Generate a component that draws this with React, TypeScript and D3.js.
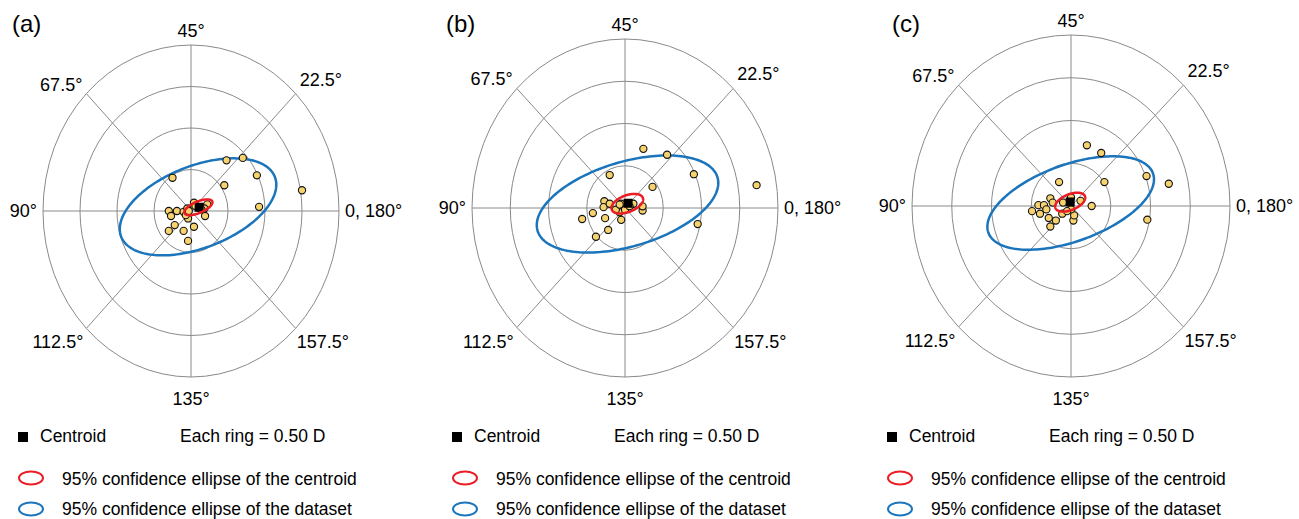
import React, { useEffect, useRef } from 'react';
import * as d3 from 'd3';

// double-angle plots, each ring = 0.50 D
const panelLabels = ['(a)', '(b)', '(c)'];
const angleLabels = ['0, 180°', '22.5°', '45°', '67.5°', '90°', '112.5°', '135°', '157.5°'];
const ringValues = [0.5, 1.0, 1.5, 2.0];

const pointsA = [
  [0.48, 0.61], [0.70, 0.64], [-0.25, 0.40], [0.89, 0.43], [0.45, 0.31], [1.50, 0.25],
  [0.92, 0.05], [-0.04, -0.36], [-0.30, -0.24], [-0.10, -0.24], [-0.22, -0.17], [0.04, -0.19],
  [0.19, -0.06], [-0.30, 0.00], [-0.19, 0.00], [-0.10, -0.01], [-0.27, -0.06], [-0.05, 0.03],
  [0.04, 0.10], [0.22, 0.08], [0.18, 0.03], [-0.04, -0.09], [-0.07, -0.05], [-0.03, 0.00],
  [0.06, 0.06], [0.14, 0.02],
];
const pointsB = [
  [0.24, 0.70], [0.55, 0.63], [-0.20, 0.39], [0.90, 0.40], [0.36, 0.25], [1.72, 0.27],
  [0.95, -0.19], [-0.56, -0.13], [-0.42, -0.06], [-0.26, -0.12], [-0.22, -0.26], [-0.38, -0.34],
  [-0.05, -0.14], [0.23, -0.03], [0.23, 0.02], [-0.27, 0.08], [-0.28, 0.01], [-0.20, 0.05],
  [-0.07, -0.05], [-0.12, -0.02], [-0.05, 0.05], [0.11, 0.05], [0.00, -0.02], [0.06, 0.02],
  [-0.07, 0.04],
];
const pointsC = [
  [0.20, 0.71], [0.38, 0.62], [-0.15, 0.28], [0.42, 0.28], [0.95, 0.35], [1.23, 0.26],
  [0.96, -0.16], [0.26, 0.00], [-0.49, -0.06], [-0.41, 0.01], [-0.34, 0.01], [-0.26, 0.09],
  [-0.23, 0.04], [-0.31, -0.04], [-0.39, -0.09], [-0.28, -0.14], [-0.19, -0.17], [-0.26, -0.24],
  [0.03, -0.17], [0.04, -0.11], [-0.11, -0.09], [-0.10, 0.04], [0.12, 0.06], [0.00, 0.10],
  [0.00, -0.04], [-0.05, -0.06],
];

const centroids = [[0.11, 0.045], [0.04, 0.056], [-0.01, 0.047]];
// [cx, cy, semi-major, semi-minor, angle deg], in D
const centroidEllipses = [[0.10, 0.045, 0.20, 0.07, 20], [0.03, 0.051, 0.215, 0.10, 18], [-0.01, 0.045, 0.198, 0.093, 20]];
const datasetEllipses = [[0.095, 0.05, 1.10, 0.50, 18], [0.033, 0.047, 1.218, 0.504, 14.4], [-0.004, 0.035, 1.092, 0.452, 18]];

const legendLabels = ['Centroid', 'Each ring = 0.50 D', '95% confidence ellipse of the centroid', '95% confidence ellipse of the dataset'];

// panel layout (pixels)
const panels = [
  { cx: 191, cy: 211, rx: 148, ry: 166, lx: 18 },
  { cx: 625, cy: 208, rx: 153, ry: 169, lx: 452 },
  { cx: 1071, cy: 206, rx: 159, ry: 171, lx: 887 },
];

const FONT = '"Liberation Sans", Arial, sans-serif';
const RED = '#ec1c24';
const BLUE = '#1b75bc';

const App = () => {
  const svgRef = useRef(null);

  useEffect(() => {
    const svg = d3.select(svgRef.current);
    svg.selectAll('*').remove();
    const allPoints = [pointsA, pointsB, pointsC];

    panels.forEach((p, i) => {
      const x = d3.scaleLinear().domain([-2, 2]).range([p.cx - p.rx, p.cx + p.rx]);
      const y = d3.scaleLinear().domain([-2, 2]).range([p.cy + p.ry, p.cy - p.ry]);
      const g = svg.append('g');

      g.append('text')
        .attr('x', p.cx - 179).attr('y', 32)
        .attr('font-size', 24).attr('font-family', FONT)
        .text(panelLabels[i]);

      // rings
      g.selectAll('ellipse.ring').data(ringValues).enter().append('ellipse')
        .attr('cx', x(0)).attr('cy', y(0))
        .attr('rx', d => x(d) - x(0)).attr('ry', d => y(0) - y(d))
        .attr('fill', 'none').attr('stroke', '#8a8a8a').attr('stroke-width', 1);

      // spokes + labels
      const maxR = ringValues[ringValues.length - 1];
      angleLabels.forEach((lab, k) => {
        const phi = (k * 45 * Math.PI) / 180;
        const ex = x(maxR * Math.cos(phi));
        const ey = y(maxR * Math.sin(phi));
        g.append('line')
          .attr('x1', x(0)).attr('y1', y(0)).attr('x2', ex).attr('y2', ey)
          .attr('stroke', '#8a8a8a').attr('stroke-width', 1);

        let tx = ex, ty = ey, anchor = 'middle';
        if (k === 0) { tx = ex + 6; ty = ey + 6; anchor = 'start'; }
        if (k === 1) { tx = ex + 4; ty = ey - 8; anchor = 'start'; }
        if (k === 2) { ty = ey - 8; }
        if (k === 3) { tx = ex - 4; ty = ey - 3; anchor = 'end'; }
        if (k === 4) { tx = ex - 6; ty = ey + 6; anchor = 'end'; }
        if (k === 5) { tx = ex - 3; ty = ey + 20; anchor = 'end'; }
        if (k === 6) { ty = ey + 28; }
        if (k === 7) { tx = ex + 1; ty = ey + 20; anchor = 'start'; }
        g.append('text')
          .attr('x', tx).attr('y', ty).attr('text-anchor', anchor)
          .attr('font-size', 18).attr('font-family', FONT)
          .text(lab);
      });

      const ellipsePath = (e) => {
        const [ecx, ecy, a, b, deg] = e;
        const th = (deg * Math.PI) / 180;
        const ts = d3.range(0, 2 * Math.PI, Math.PI / 90);
        return d3.line()
          .x(t => x(ecx + a * Math.cos(t) * Math.cos(th) - b * Math.sin(t) * Math.sin(th)))
          .y(t => y(ecy + a * Math.cos(t) * Math.sin(th) + b * Math.sin(t) * Math.cos(th)))
          .curve(d3.curveLinearClosed)(ts);
      };

      g.append('path')
        .attr('d', ellipsePath(datasetEllipses[i]))
        .attr('fill', 'none').attr('stroke', BLUE).attr('stroke-width', 2.5);

      g.selectAll('circle.pt').data(allPoints[i]).enter().append('circle')
        .attr('cx', d => x(d[0])).attr('cy', d => y(d[1])).attr('r', 3.6)
        .attr('fill', '#f6d36f').attr('stroke', '#111').attr('stroke-width', 1.1);

      const c = centroids[i];
      g.append('rect')
        .attr('x', x(c[0]) - 4.5).attr('y', y(c[1]) - 4.5)
        .attr('width', 9).attr('height', 9).attr('fill', '#000');

      g.append('path')
        .attr('d', ellipsePath(centroidEllipses[i]))
        .attr('fill', 'none').attr('stroke', RED).attr('stroke-width', 2.5);

      // legend
      const lg = g.append('g').attr('font-family', FONT).attr('font-size', 17.5);
      lg.append('rect').attr('x', p.lx).attr('y', 432).attr('width', 10).attr('height', 10).attr('fill', '#000');
      lg.append('text').attr('x', p.lx + 22).attr('y', 442).text(legendLabels[0]);
      lg.append('text').attr('x', p.lx + 162).attr('y', 442).text(legendLabels[1]);
      lg.append('ellipse').attr('cx', p.lx + 13).attr('cy', 478).attr('rx', 12).attr('ry', 6.5)
        .attr('fill', 'none').attr('stroke', RED).attr('stroke-width', 2);
      lg.append('text').attr('x', p.lx + 44).attr('y', 485).text(legendLabels[2]);
      lg.append('ellipse').attr('cx', p.lx + 13).attr('cy', 509).attr('rx', 12).attr('ry', 6.5)
        .attr('fill', 'none').attr('stroke', BLUE).attr('stroke-width', 2);
      lg.append('text').attr('x', p.lx + 44).attr('y', 515).text(legendLabels[3]);
    });
  }, []);

  return (
    <svg ref={svgRef} width={1299} height={519}
      style={{ position: 'absolute', left: 0, top: 0, background: '#fff' }} />
  );
};

export default App;
